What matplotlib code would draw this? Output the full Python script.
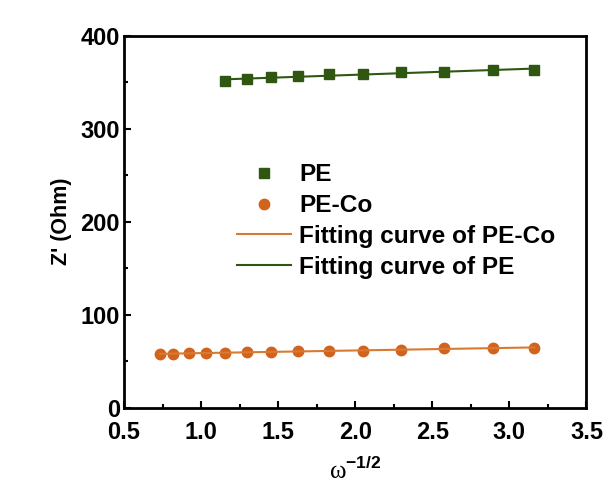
import numpy as np
import matplotlib
matplotlib.use("Agg")
import matplotlib.pyplot as plt
from matplotlib.ticker import MultipleLocator

plt.rcParams['font.family'] = ['Liberation Sans', 'DejaVu Sans']
plt.rcParams['mathtext.fontset'] = 'custom'
plt.rcParams['mathtext.rm'] = 'Liberation Serif'
plt.rcParams['mathtext.bf'] = 'Liberation Sans:bold'

# data
pe_x = [1.155, 1.296, 1.453, 1.630, 1.829, 2.048, 2.298, 2.575, 2.895, 3.161]
pe_y = [351.3, 353.1, 355.3, 357.0, 358.5, 358.5, 361.0, 361.3, 363.1, 363.4]

peco_x = [0.733, 0.816, 0.922, 1.030, 1.155, 1.296, 1.453, 1.630, 1.829,
          2.048, 2.298, 2.575, 2.895, 3.161]
peco_y = [57.7, 57.7, 58.5, 58.8, 59.1, 59.6, 59.6, 60.6, 61.0, 61.3,
          61.7, 64.2, 64.2, 63.9]

green = '#2f5711'
orange = '#d2631c'
orange_fit = '#d97a32'

fig = plt.figure(figsize=(6.08, 4.84), dpi=100)
ax = fig.add_axes([0.204, 0.158, 0.7606, 0.768])

# linear fits
k1, b1 = np.polyfit(peco_x, peco_y, 1)
k2, b2 = np.polyfit(pe_x, pe_y, 1)
xs1 = np.array([min(peco_x), max(peco_x)])
xs2 = np.array([min(pe_x), max(pe_x)])

h_pe, = ax.plot(pe_x, pe_y, 's', color=green, markersize=7, linestyle='none', label='PE')
h_co, = ax.plot(peco_x, peco_y, 'o', color=orange, markersize=7.5, linestyle='none', label='PE-Co')
h_f1, = ax.plot(xs1, k1 * xs1 + b1, '-', color=orange_fit, lw=1.5, label='Fitting curve of PE-Co')
h_f2, = ax.plot(xs2, k2 * xs2 + b2, '-', color=green, lw=1.5, label='Fitting curve of PE')

ax.set_xlim(0.5, 3.5)
ax.set_ylim(0, 400)
ax.xaxis.set_major_locator(MultipleLocator(0.5))
ax.xaxis.set_minor_locator(MultipleLocator(0.25))
ax.yaxis.set_major_locator(MultipleLocator(100))
ax.yaxis.set_minor_locator(MultipleLocator(50))
ax.tick_params(which='both', direction='in', top=False, right=False, width=1.5)
ax.tick_params(which='major', length=5, labelsize=17)
ax.tick_params(axis='x', which='major', pad=10)
ax.tick_params(axis='y', which='major', pad=3)
ax.tick_params(which='minor', length=3)
for lab in ax.get_xticklabels() + ax.get_yticklabels():
    lab.set_fontweight('bold')
for sp in ax.spines.values():
    sp.set_linewidth(2)

ax.set_xlabel(r'$\mathrm{\omega}^{\mathbf{-1/2}}$', fontsize=18, labelpad=9)
ax.set_ylabel("Z' (Ohm)", fontsize=15.5, fontweight='bold', labelpad=6)

leg = ax.legend(handles=[h_pe, h_co, h_f1, h_f2], loc='upper left',
                bbox_to_anchor=(0.218, 0.69), frameon=False,
                prop={'size': 17.6, 'weight': 'bold'}, labelspacing=0.32,
                handlelength=2.2, handletextpad=0.35, borderpad=0)

fig.savefig('out.png', dpi=100)
